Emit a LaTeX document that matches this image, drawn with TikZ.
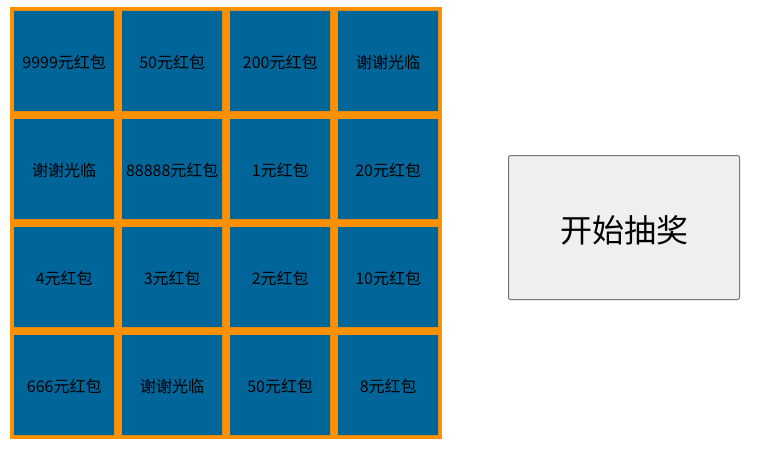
\documentclass[tikz,border=0pt]{standalone}
\usepackage{fontspec}
\setmainfont{Noto Sans CJK SC}
\definecolor{cellblue}{HTML}{006699}
\definecolor{frameorange}{HTML}{FF9000}
\definecolor{btnfill}{HTML}{EFEFEF}
\definecolor{btnborder}{HTML}{767676}
\tikzset{
  prize/.style={draw=none, minimum width=100pt, minimum height=100pt, inner sep=0pt, anchor=north west, text=black, font=\fontsize{16}{19}\selectfont, text depth=0pt, yshift=-1pt},
  startbtn/.style={fill=btnfill, draw=btnborder, line width=1pt, rounded corners=2pt, minimum width=231pt, minimum height=144pt, inner sep=0pt, font=\fontsize{32}{38}\selectfont}
}
\begin{document}
\begin{tikzpicture}[x=1pt,y=-1pt]
\useasboundingbox (0,0) rectangle (763,452);
\fill[white] (0,0) rectangle (763,452);
\node[fill=frameorange, minimum width=432pt, minimum height=432pt, inner sep=0pt, anchor=north west] (frame) at (10,7) {};
\fill[cellblue] (14,11) rectangle +(100,100) (122,11) rectangle +(100,100) (230,11) rectangle +(100,100) (338,11) rectangle +(100,100)
  (14,119) rectangle +(100,100) (122,119) rectangle +(100,100) (230,119) rectangle +(100,100) (338,119) rectangle +(100,100)
  (14,227) rectangle +(100,100) (122,227) rectangle +(100,100) (230,227) rectangle +(100,100) (338,227) rectangle +(100,100)
  (14,335) rectangle +(100,100) (122,335) rectangle +(100,100) (230,335) rectangle +(100,100) (338,335) rectangle +(100,100);
\node[prize] (c11) at (14,11) {9999元红包};
\node[prize] (c12) at (122,11) {50元红包};
\node[prize] (c13) at (230,11) {200元红包};
\node[prize] (c14) at (338,11) {谢谢光临};
\node[prize] (c21) at (14,119) {谢谢光临};
\node[prize] (c22) at (122,119) {88888元红包};
\node[prize] (c23) at (230,119) {1元红包};
\node[prize] (c24) at (338,119) {20元红包};
\node[prize] (c31) at (14,227) {4元红包};
\node[prize] (c32) at (122,227) {3元红包};
\node[prize] (c33) at (230,227) {2元红包};
\node[prize] (c34) at (338,227) {10元红包};
\node[prize] (c41) at (14,335) {666元红包};
\node[prize] (c42) at (122,335) {谢谢光临};
\node[prize] (c43) at (230,335) {50元红包};
\node[prize] (c44) at (338,335) {8元红包};
\node[startbtn] (btn) at (624,227.5) {};
\node[font=\fontsize{32}{38}\selectfont, inner sep=0pt] (btntext) at ([yshift=-3pt]btn.center) {开始抽奖};
\end{tikzpicture}
\end{document}
